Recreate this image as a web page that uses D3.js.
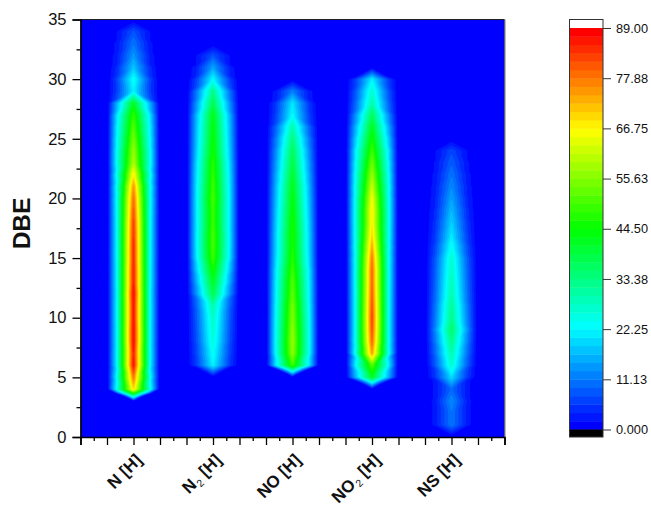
<!DOCTYPE html>
<html><head><meta charset="utf-8">
<script src="https://cdn.jsdelivr.net/npm/d3@7"></script>
<style>html,body{margin:0;padding:0;background:#fff}svg{display:block}text{font-family:"Liberation Sans",Arial,sans-serif;fill:#111}</style>
</head><body><div id="c"></div>
<script>
// Peak height for each compound class, indexed by DBE 0..35
const categories = ["N", "N2", "NO", "NO2", "NS"];
const N_values  = [0,0,0,0,70,79,88,87,89,89,88,88,89,87,87,86,86,85,84,82,80,76,68,60,58,55,52,49,42,22,24,18,14,11,8,0];
const N2_values = [0,0,0,0,0,0,22,24,26,27,28,30,38,42,46,50,51,51,50,50,51,50,49,48,46,45,44,43,38,33,23,15,8,0,0,0];
const NO_values = [0,0,0,0,0,0,50,57,58,57,56,55,53,52,50,48,47,47,46,45,44,43,41,39,37,34,30,23,21,12,0,0,0,0,0,0];
const NO2_values= [0,0,0,0,0,42,52,75,80,82,83,82,81,80,80,78,74,70,68,68,66,62,58,54,50,46,42,37,30,27,22,0,0,0,0,0];
const NS_values = [0,11,11,13,10,20,27,30,33,36,33,32,30,29,28,27,24,21,19,17,15,13,11,9,7,0,0,0,0,0,0,0,0,0,0,0];
const series = [N_values, N2_values, NO_values, NO2_values, NS_values];
const yTicks = [0,5,10,15,20,25,30,35];
const colorTicks = [[0,"0.000"],[11.125,"11.13"],[22.25,"22.25"],[33.375,"33.38"],[44.5,"44.50"],[55.625,"55.63"],[66.75,"66.75"],[77.875,"77.88"],[89,"89.00"]];
const zMax = 89, levels = 48, halfWidth = 0.3;

const W=651,H=507, L=80.5,R=504.5,T=19.5,B=437;
const svg=d3.select("#c").append("svg").attr("width",W).attr("height",H);
const x=d3.scaleLinear().domain([1/3,17/3]).range([L,R]);
const y=d3.scaleLinear().domain([0,35]).range([B,T]);
const cb=d3.scaleLinear().domain([0,zMax]).range([429.5,28]);
const jet=d3.scaleLinear().domain([0,.25,.5,.75,1]).range(["#0000ff","#00ffff","#00ff00","#ffff00","#ff0000"]);
const bandColor=i=>jet(i/(levels-1));
// share of the local peak that remains at the outer shoulder of a column
const shoulder=d3.scaleLinear().domain([0,15,30,50,60,89]).range([.23,.23,.32,.42,.40,.25]).clamp(true);

// Triangulated surface between a class's central column and its zero-valued side columns
function surface(xv,yv){
  const idx=Math.round(xv); if(idx<1||idx>5) return 0;
  const q=Math.abs(xv-idx)/halfWidth; if(q>=1.1) return 0;
  const v=series[idx-1];
  if(yv<0||yv>=35) return 0;
  const r=Math.floor(yv),t=yv-r,a=v[r],b=v[r+1];
  const g=1-shoulder(a*(1-t)+b*t);
  const u=q<=.7 ? q/.7*g : g+(q-.7)/.4*(1-g);
  if(a<=b){ return t>=u ? a*(1-t)+b*(t-u) : a*(1-u); }
  return u+t<=1 ? a*(1-u-t)+b*t : b*(1-u);
}
const nx=Math.round(R-L), ny=Math.round(B-T);
const sx=(R-L)/nx, sy=(B-T)/ny;
const grid=new Float64Array(nx*ny);
for(let j=0;j<ny;j++)for(let i=0;i<nx;i++){
  grid[j*nx+i]=surface(x.invert(L+(i+.5)*sx),y.invert(T+(j+.5)*sy));
}
const thresholds=d3.range(1,levels).map(i=>i*zMax/levels);
const contours=d3.contours().size([nx,ny]).thresholds(thresholds)(grid);
const path=d3.geoPath(d3.geoTransform({point(px,py){this.stream.point(L+px*sx,T+py*sy);}}));
svg.append("rect").attr("x",L).attr("y",T).attr("width",R-L).attr("height",B-T).attr("fill",bandColor(0));
svg.append("g").selectAll("path").data(contours).join("path")
  .attr("d",path).attr("fill",(d,i)=>bandColor(i+1));

// frame
svg.append("line").attr("x1",L).attr("x2",R).attr("y1",T).attr("y2",T).attr("stroke","#222").attr("stroke-width",1.2);
svg.append("line").attr("x1",R+.3).attr("x2",R+.3).attr("y1",T).attr("y2",B).attr("stroke","#555").attr("stroke-width",1.2);

// y axis
const yMajor=d3.axisLeft(y).tickValues(yTicks).tickSize(8).tickPadding(6);
const yg=svg.append("g").attr("transform",`translate(${L},0)`).call(yMajor);
yg.select(".domain").attr("stroke","#000").attr("stroke-width",1.6);
yg.selectAll("line").attr("stroke","#000").attr("stroke-width",1.3);
yg.selectAll("text").attr("font-size",16.5).style("fill","#111");
const yMinor=d3.axisLeft(y).tickValues(d3.range(2.5,35,5)).tickSize(4).tickFormat("");
const ym=svg.append("g").attr("transform",`translate(${L},0)`).call(yMinor);
ym.select(".domain").remove(); ym.selectAll("line").attr("stroke","#000").attr("stroke-width",1.3);

// x axis
const xMajor=d3.axisBottom(x).tickValues(d3.range(0,17).map(i=>1/3+i/3)).tickSize(8).tickFormat("");
const xg=svg.append("g").attr("transform",`translate(0,${B})`).call(xMajor);
xg.select(".domain").attr("stroke","#000").attr("stroke-width",1.6);
xg.selectAll("line").attr("stroke","#000").attr("stroke-width",1.3);
const xMinor=d3.axisBottom(x).tickValues(d3.range(0,16).map(i=>1/2+i/3)).tickSize(4).tickFormat("");
const xm=svg.append("g").attr("transform",`translate(0,${B})`).call(xMinor);
xm.select(".domain").remove(); xm.selectAll("line").attr("stroke","#000").attr("stroke-width",1.3);

// category labels
const lab=svg.append("g").selectAll("text").data(categories).join("text")
  .attr("transform",(d,i)=>`translate(${x(i+1)+9.5},${B+24}) rotate(-45)`)
  .attr("text-anchor","end").attr("font-size",17).attr("font-weight","bold");
lab.each(function(d){
  const t=d3.select(this), m=d.match(/^([A-Z]+)(\d?)$/);
  t.append("tspan").text(m[1]);
  if(m[2]){ t.append("tspan").attr("font-size",10.5).attr("dx",1).attr("dy",3.5).attr("font-weight","normal").text(m[2]); t.append("tspan").attr("dy",-3.5).text(" [H]"); }
  else t.append("tspan").text(" [H]");
});

svg.append("text").attr("transform",`translate(29.5,223.5) rotate(-90)`).attr("text-anchor","middle")
  .attr("font-size",24.5).attr("font-weight","bold").text("DBE");

// color bar
const cbL=569.5,cbR=603;
const cbg=svg.append("g");
const bh=zMax/levels;
cbg.selectAll("rect.b").data(d3.range(levels)).join("rect").attr("class","b")
  .attr("x",cbL).attr("width",cbR-cbL)
  .attr("y",i=>cb((i+1)*bh)).attr("height",i=>cb(i*bh)-cb((i+1)*bh)+.4)
  .attr("fill",bandColor);
cbg.append("rect").attr("x",cbL).attr("width",cbR-cbL).attr("y",cb(0)).attr("height",B-cb(0)).attr("fill","#000");
cbg.append("rect").attr("x",cbL).attr("y",T).attr("width",cbR-cbL).attr("height",B-T).attr("fill","none").attr("stroke","#333").attr("stroke-width",1);
const cax=d3.axisRight(cb).tickValues(colorTicks.map(d=>d[0])).tickFormat((d,i)=>colorTicks[i][1]).tickSize(8).tickPadding(5);
const cg=svg.append("g").attr("transform",`translate(${cbR},0)`).call(cax);
cg.select(".domain").remove();
cg.selectAll("line").attr("stroke","#333").attr("stroke-width",1);
cg.selectAll("text").attr("font-size",12.8).style("fill","#111");
</script></body></html>
